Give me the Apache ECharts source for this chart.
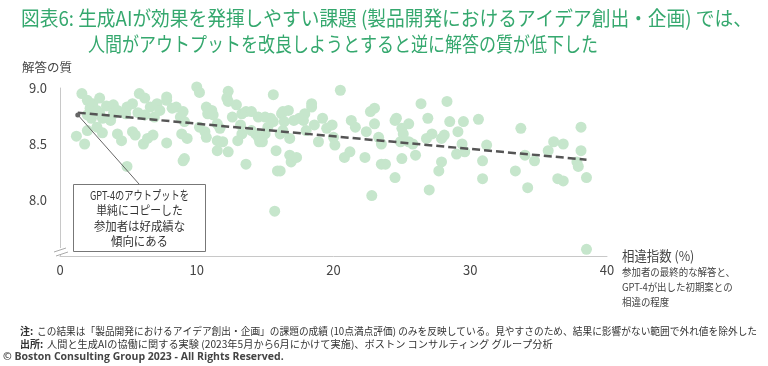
<!DOCTYPE html>
<html>
<head>
<meta charset="utf-8">
<script src="https://cdn.jsdelivr.net/npm/echarts@6/dist/echarts.min.js"></script>
<style>
html,body{margin:0;padding:0;background:#fff;}
#c{width:768px;height:366px;}
</style>
</head>
<body>
<div id="c"></div>
<script>
// ---- data ----
var titleLines = ['図表6: 生成AIが効果を発揮しやすい課題 (製品開発におけるアイデア創出・企画) では、', '人間がアウトプットを改良しようとすると逆に解答の質が低下した'];
var yAxisName = '解答の質';
var xAxisName = '相違指数 (%)';
var xAxisDesc = ['参加者の最終的な解答と、', 'GPT-4が出した初期案との', '相違の程度'];
var noteLines = ['GPT-4のアウトプットを', '単純にコピーした', '参加者は好成績な', '傾向にある'];
var xTicks = [0, 10, 20, 30, 40];
var yTicks = [7.5, 8.0, 8.5, 9.0];
var diffPct = [
 1.6,2.0,2.2,2.4,2.7,2.9,3.4,3.9,4.2,4.9,5.3,5.8,6.2,6.6,7.1,7.3,7.8,8.2,2.3,3.1,3.7,2.7,2.0,3.1,1.2,1.8,4.2,5.3,4.5,6.1,6.8,7.8,4.9,6.4,3.9,4.8,5.7,6.2,2.9,2.0,5.5,7.8,6.9,
 10.0,10.2,12.3,12.2,12.3,15.6,8.5,9.0,8.8,9.1,8.9,9.3,9.1,9.0,10.7,11.1,10.8,11.2,10.2,10.6,10.7,11.5,11.7,11.5,11.9,11.5,12.3,12.6,12.9,13.3,13.6,14.0,14.5,13.2,13.3,13.0,14.0,14.3,14.5,14.6,13.6,15.0,15.4,15.6,15.2,15.0,14.8,15.8,15.9,15.7,16.2,16.3,
 16.3,16.7,16.4,17.1,17.5,17.9,17.8,18.4,18.4,16.8,16.1,16.1,16.8,16.9,17.3,18.0,18.6,18.9,19.2,19.5,19.9,20.0,20.1,20.5,21.3,21.6,20.8,21.2,22.3,22.4,23.0,23.3,23.5,22.7,23.0,23.5,23.8,22.8,24.5,
 24.6,25.0,25.1,25.5,24.9,25.5,25.8,25.0,24.5,26.0,26.4,26.9,26.8,27.2,28.3,28.5,27.9,27.7,27.0,27.9,28.1,29.1,29.5,29.4,29.6,29.0,30.6,30.9,31.2,30.9,
 33.7,34.0,34.7,33.3,34.2,35.7,36.1,36.8,36.4,36.8,38.1,38.1,37.8,37.9,38.5,38.5
];
var quality = [
 8.95,8.89,8.82,8.86,8.80,8.91,8.84,8.85,8.80,8.83,8.86,8.95,8.91,8.83,8.86,8.80,8.92,8.82,8.73,8.73,8.71,8.65,8.62,8.60,8.57,8.50,8.59,8.61,8.53,8.50,8.58,8.51,8.30,8.55,8.77,8.77,8.78,8.76,8.78,8.76,8.58,8.89,8.74,
 9.01,8.96,8.97,8.91,8.88,8.94,8.83,8.79,8.74,8.70,8.59,8.55,8.37,8.35,8.83,8.80,8.77,8.76,8.65,8.61,8.56,8.68,8.64,8.53,8.52,8.44,8.43,8.74,8.85,8.77,8.79,8.79,8.74,8.67,8.59,8.53,8.62,8.59,8.56,8.52,8.32,8.74,8.73,8.70,8.65,8.59,8.52,8.44,8.26,7.90,8.77,8.62,
 8.79,8.80,8.70,8.71,8.73,8.77,8.71,8.86,8.83,8.55,8.59,8.26,8.40,8.34,8.38,8.62,8.67,8.52,8.73,8.64,8.67,8.56,8.49,8.98,8.71,8.65,8.38,8.43,8.38,8.61,8.68,8.56,8.50,8.79,8.82,8.32,8.32,8.04,8.71,
 8.73,8.64,8.59,8.68,8.52,8.52,8.50,8.37,8.20,8.40,8.86,8.73,8.55,8.59,8.88,8.70,8.34,8.26,8.09,8.55,8.58,8.61,8.70,8.50,8.43,8.41,8.72,8.35,8.49,8.19,
 8.64,8.40,8.35,8.26,8.11,8.44,8.52,8.50,8.19,8.17,8.65,8.44,8.34,8.30,8.20,7.56
];
var trendX = [1.3, 38.5];
var trendY = [8.78, 8.36];
var noteAnchor = [1.3, 8.76];
var footNote = 'この結果は「製品開発におけるアイデア創出・企画」の課題の成績 (10点満点評価) のみを反映している。見やすさのため、結果に影響がない範囲で外れ値を除外した';
var footSource = '人間と生成AIの協働に関する実験 (2023年5月から6月にかけて実施)、ボストン コンサルティング グループ分析';
var copyright = '© Boston Consulting Group 2023 - All Rights Reserved.';

// ---- chart ----
var JP = '"Noto Sans CJK JP", "Noto Sans", sans-serif';
var green = '#35a86e';
var chart = echarts.init(document.getElementById('c'), null, {renderer: 'canvas'});
var pts = diffPct.map(function (x, i) { return [x, quality[i]]; });
var trend = trendX.map(function (x, i) { return [x, trendY[i]]; });

chart.setOption({
  animation: false,
  grid: {left: 60, right: 161, top: 88, bottom: 110, containLabel: false},
  xAxis: {
    type: 'value', min: xTicks[0], max: xTicks[xTicks.length - 1], interval: 10,
    axisLine: {lineStyle: {color: '#c8c8c8', width: 1}},
    axisTick: {show: false}, splitLine: {show: false},
    axisLabel: {color: '#444', fontSize: 13, fontFamily: JP, margin: 8}
  },
  yAxis: {
    type: 'value', min: yTicks[0], max: yTicks[yTicks.length - 1], interval: 0.5,
    axisLine: {show: true, lineStyle: {color: '#c8c8c8', width: 1}},
    axisTick: {show: false}, splitLine: {show: false},
    axisLabel: {color: '#444', fontSize: 13, fontFamily: JP, margin: 13,
      formatter: function (v) { return v === yTicks[0] ? '' : v.toFixed(1); }}
  },
  series: [
    {type: 'scatter', data: pts, symbolSize: 11, clip: false,
     itemStyle: {color: '#c6e6cc', opacity: 1}, z: 2},
    {type: 'line', data: trend, symbol: 'none', z: 3,
     lineStyle: {color: '#555', width: 2.5, type: [8, 4]}}
  ]
});

function txt(t, x, y, font, fill, sx, align, z) {
  return {type: 'text', x: x, y: y, scaleX: sx || 1, z: z || 10,
    style: {text: t, fill: fill, font: font, textAlign: align || 'left', textVerticalAlign: 'middle'}};
}

var a = chart.convertToPixel({seriesIndex: 0}, noteAnchor);
var boxX = 73, boxY = 184, boxW = 132, boxH = 67;
var g = [];
// title
g.push(txt(titleLines[0], 21, 18, '20px ' + JP, green, 0.935));
g.push(txt(titleLines[1], 88, 44, '20px ' + JP, green, 0.85));
// axis names
g.push(txt(yAxisName, 22, 67, '12.5px ' + JP, '#444', 1));
g.push(txt(xAxisName, 622, 256, '13.5px ' + JP, '#444', 0.92));
xAxisDesc.forEach(function (t, i) {
  g.push(txt(t, 622, 272 + i * 15, '10.5px ' + JP, '#444', 0.9));
});
// axis break
g.push({type: 'rect', shape: {x: 56, y: 248, width: 8, height: 7}, style: {fill: '#fff'}, z: 50});
g.push({type: 'line', shape: {x1: 54, y1: 252, x2: 66, y2: 248}, style: {stroke: '#aaa', lineWidth: 1}, z: 51});
g.push({type: 'line', shape: {x1: 56, y1: 256, x2: 68, y2: 252}, style: {stroke: '#aaa', lineWidth: 1}, z: 51});
// annotation
g.push({type: 'line', shape: {x1: boxX + boxW / 2, y1: boxY, x2: a[0], y2: a[1]}, style: {stroke: '#666', lineWidth: 1}, z: 60});
g.push({type: 'circle', shape: {cx: a[0], cy: a[1], r: 2.5}, style: {fill: '#666'}, z: 61});
g.push({type: 'rect', shape: {x: boxX + 0.5, y: boxY + 0.5, width: boxW, height: boxH}, style: {fill: '#fff', stroke: '#777', lineWidth: 1}, z: 60});
var noteScale = [0.77, 0.9, 0.95, 0.95];
noteLines.forEach(function (t, i) {
  g.push(txt(t, boxX + boxW / 2 + 0.5, boxY + 11 + i * 15.5, '12px ' + JP, '#333', noteScale[i], 'center', 62));
});
// footnotes
g.push(txt('注:', 20, 331, 'bold 10px ' + JP, '#333', 1));
g.push(txt(footNote, 37, 331, '10px ' + JP, '#333', 0.97));
g.push(txt('出所:', 20, 344, 'bold 10px ' + JP, '#333', 1));
g.push(txt(footSource, 47, 344, '10px ' + JP, '#333', 1.02));
g.push(txt(copyright, 3, 357, 'bold 10.5px "Open Sans", sans-serif', '#444', 1));
chart.setOption({graphic: g});
</script>
</body>
</html>
